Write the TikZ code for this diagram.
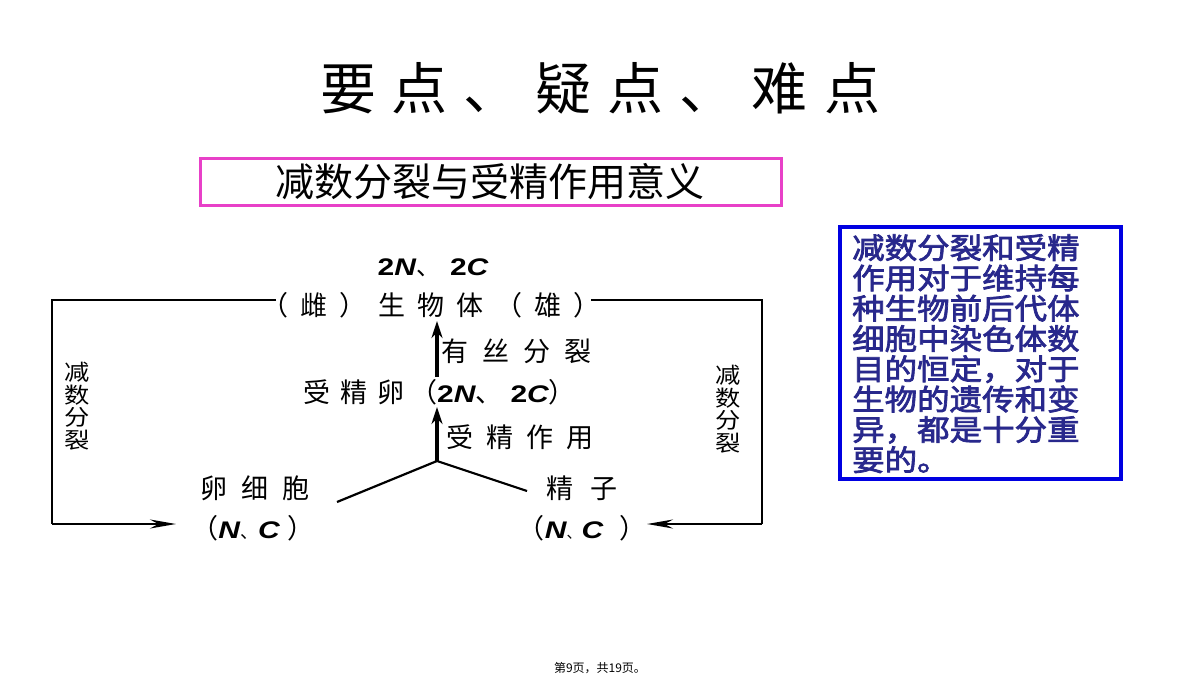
\documentclass[tikz,border=0pt]{standalone}
\usepackage{fontspec}
\setmainfont{Noto Sans CJK SC}
\newfontfamily\lat{Liberation Sans}[FakeStretch=1.25]
\newfontfamily\cjkfb{Noto Sans CJK SC}[FakeBold=2.5,FakeStretch=1.12]
\newfontfamily\cjkw{Noto Sans CJK SC}[FakeStretch=1.15]
\usetikzlibrary{arrows.meta}
\definecolor{mag}{RGB}{232,64,200}
\definecolor{bbox}{RGB}{0,0,225}
\definecolor{navy}{RGB}{40,40,140}
\newcommand\fs[1]{\fontsize{#1}{#1}\selectfont}
\newcommand\g[1]{\hspace{#1pt}}
\newcommand\NN{{\lat\bfseries\itshape N}}
\newcommand\CC{{\lat\bfseries\itshape C}}
\newcommand\two{{\lat\bfseries 2}}
\newcommand\tight{\lineskiplimit=-100pt\lineskip=0pt}
\tikzset{
  lbl/.style={inner sep=0pt, font=\fs{27}},
  vlbl/.style={inner sep=0pt, align=center, font=\cjkw\fontsize{22}{22.6}\selectfont\tight},
  conn/.style={line width=2.6pt, black},
  arr/.style={conn, -{Stealth[length=26pt,width=9pt]}},
  uparr/.style={line width=3.5pt, -{Stealth[length=17pt,width=11pt]}},
}
\begin{document}
\begin{tikzpicture}[x=1pt,y=-1pt]
\useasboundingbox[fill=white] (0,0) rectangle (1200,680);

% title
\node[inner sep=0pt, font=\fs{56}] (title) at (600,88) {要\g{16}点\g{16}、\g{16}疑\g{16}点\g{16}、\g{16}难\g{16}点};

% magenta box
\node[draw=mag, line width=3pt, minimum width=581pt, minimum height=47pt, inner sep=0pt] (mbox) at (490.5,181.5) {};
\node[inner sep=0pt, font=\fs{39}] (mtext) at (490,182) {减数分裂与受精作用意义};

% blue box
\node[draw=bbox, line width=4pt, minimum width=281pt, minimum height=252pt, inner sep=0pt] (bbx) at (980.5,353) {};
\node[inner sep=0pt, anchor=north west, align=left, text=navy, font=\cjkfb\fontsize{29}{30.3}\selectfont\tight] (btext) at (852,234)
{减数分裂和受精\\作用对于维持每\\种生物前后代体\\细胞中染色体数\\目的恒定，对于\\生物的遗传和变\\异，都是十分重\\要的。};

% diagram
\node[lbl, font=\fs{24}] (ploidy) at (433,268) {\two\NN、\g{10}\two\CC};
\node[lbl, anchor=west] (org) at (261,305) {（\g{12}雌\g{12}）\g{12}生\g{12}物\g{12}体\g{12}（\g{12}雄\g{12}）};
\node[lbl, anchor=west] (zyg) at (303,392) {受\g{10}精\g{10}卵\g{6}（{\fs{24}\two\NN}、\g{8}{\fs{24}\two\CC}）};
\node[lbl, anchor=west] (mitosis) at (441,351) {有\g{14}丝\g{14}分\g{14}裂};
\node[lbl, anchor=west] (fert) at (446,437) {受\g{13}精\g{13}作\g{13}用};
\node[lbl] (egg) at (255,488) {卵\g{14}细\g{14}胞};
\node[lbl] (eggnc) at (253,528) {（{\fs{24}\NN{\fs{18}、}\CC}\g{8}）};
\node[lbl] (sperm) at (582,488) {精\g{18}子};
\node[lbl] (spermnc) at (582,528) {（{\fs{24}\NN{\fs{15}、}\CC}\g{16}）};
\node[vlbl] (mlL) at (77,406) {减\\数\\分\\裂};
\node[vlbl] (mlR) at (728,409) {减\\数\\分\\裂};

\coordinate (lt) at (52,300);
\coordinate (lb) at (52,524);
\coordinate (la) at (176,524);
\coordinate (rt) at (762,300);
\coordinate (rb) at (762,524);
\coordinate (ra) at (647,524);
\coordinate (jn) at (437,461);
\coordinate (ol) at (276,300);
\coordinate (or) at (591,300);
\coordinate (el) at (337,502);
\coordinate (sr) at (527,491);

\draw[conn] (ol) -- (lt) -- (lb);
\draw[arr] (lb) -- (la);
\draw[conn] (or) -- (rt) -- (rb);
\draw[arr] (rb) -- (ra);
\draw[conn, line width=2.2pt] (el) -- (jn) -- (sr);
\draw[uparr] (jn) -- (437,407);
\draw[uparr] (437,377) -- (437,321);

% footer
\node[inner sep=0pt, font=\fs{12}] (foot) at (600,668) {第9页，共19页。};
\end{tikzpicture}
\end{document}
